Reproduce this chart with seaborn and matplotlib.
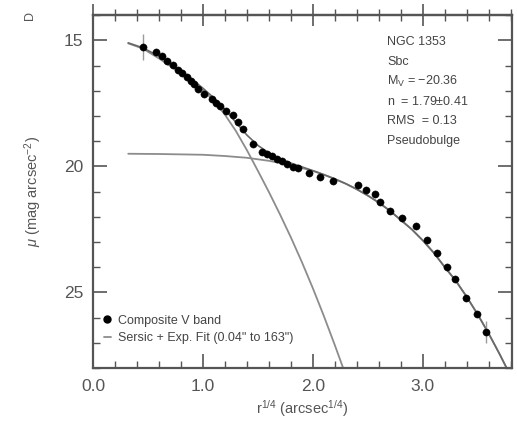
import numpy as np
import pandas as pd
import matplotlib
matplotlib.use('Agg')
import matplotlib.pyplot as plt
from matplotlib.lines import Line2D
from matplotlib.ticker import MultipleLocator
import seaborn as sns

# surface brightness profile
r14 = [0.457, 0.570, 0.624, 0.676, 0.730, 0.776, 0.812, 0.852, 0.888, 0.921,
       0.952, 1.012, 1.085, 1.118, 1.155, 1.209, 1.276, 1.321, 1.367, 1.452,
       1.533, 1.579, 1.624, 1.670, 1.715, 1.760, 1.815, 1.866, 1.964, 2.064,
       2.185, 2.412, 2.482, 2.564, 2.609, 2.706, 2.815, 2.942, 3.039, 3.130,
       3.221, 3.297, 3.397, 3.497, 3.579]
mu = [15.26, 15.48, 15.63, 15.81, 15.97, 16.16, 16.31, 16.47, 16.61, 16.75,
      16.92, 17.11, 17.33, 17.47, 17.61, 17.81, 17.95, 18.23, 18.53, 19.12,
      19.44, 19.52, 19.60, 19.69, 19.80, 19.89, 20.02, 20.08, 20.25, 20.42,
      20.59, 20.75, 20.95, 21.10, 21.41, 21.76, 22.03, 22.37, 22.93, 23.43,
      23.99, 24.48, 25.22, 25.84, 26.57]
mu_err = [0.50] + [0.0] * 43 + [0.45]

# fit curves
sersic_x = [0.32, 0.45, 0.6, 0.8, 1.0, 1.1, 1.2, 1.3, 1.4, 1.5, 1.6, 1.7,
            1.8, 1.9, 2.0, 2.1, 2.2, 2.275]
sersic_mu = [15.12, 15.32, 15.72, 16.30, 16.98, 17.40, 17.95, 18.60, 19.36,
             20.18, 21.02, 21.90, 22.82, 23.80, 24.84, 25.94, 27.10, 28.00]
disk_x = [0.32, 0.6, 1.0, 1.2, 1.4, 1.6, 1.8, 2.0, 2.1, 2.2, 2.3, 2.4, 2.5,
          2.6, 2.7, 2.8, 2.9, 3.0, 3.1, 3.2, 3.3, 3.4, 3.5, 3.6, 3.7, 3.76]
disk_mu = [19.50, 19.51, 19.54, 19.59, 19.66, 19.78, 19.95, 20.18, 20.33,
           20.50, 20.69, 20.91, 21.16, 21.44, 21.76, 22.13, 22.50, 22.94,
           23.43, 24.00, 24.54, 25.18, 25.88, 26.64, 27.46, 27.98]
total_x = [0.32, 0.45, 0.6, 0.8, 1.0, 1.1, 1.2, 1.3, 1.4, 1.5, 1.6, 1.7, 1.8,
           1.9, 2.0, 2.1, 2.2, 2.3, 2.4, 2.5, 2.6, 2.7, 2.8, 2.9, 3.0, 3.1,
           3.2, 3.3, 3.4, 3.5, 3.6, 3.7, 3.76]
total_mu = [15.10, 15.29, 15.63, 16.20, 16.90, 17.29, 17.74, 18.26, 18.76,
            19.17, 19.47, 19.70, 19.87, 20.02, 20.17, 20.33, 20.50, 20.69,
            20.91, 21.16, 21.44, 21.76, 22.13, 22.50, 22.94, 23.43, 24.00,
            24.54, 25.18, 25.88, 26.64, 27.46, 27.98]

info_lines = ['NGC 1353', 'Sbc', r'M$_{\rm V}$ = $-$20.36',
              r'n  = 1.79$\pm$0.41', 'RMS  = 0.13', 'Pseudobulge']

sns.set_style('white')
plt.rcParams['font.family'] = ['Liberation Sans', 'DejaVu Sans']
plt.rcParams['mathtext.fontset'] = 'custom'
plt.rcParams['mathtext.rm'] = 'Liberation Sans'
plt.rcParams['mathtext.it'] = 'Liberation Sans:italic'

GREY = '#555555'
LINE = '#8c8c8c'

fig = plt.figure(figsize=(5.17, 4.21), dpi=100)
ax = fig.add_axes([0.180, 0.126, 0.810, 0.838])

df_pts = pd.DataFrame({'r14': r14, 'mu': mu, 'err': mu_err})
df_ser = pd.DataFrame({'x': sersic_x, 'mu': sersic_mu})
df_dsk = pd.DataFrame({'x': disk_x, 'mu': disk_mu})
df_tot = pd.DataFrame({'x': total_x, 'mu': total_mu})

sns.lineplot(data=df_ser, x='x', y='mu', ax=ax, color=LINE, lw=1.3, sort=False)
sns.lineplot(data=df_dsk, x='x', y='mu', ax=ax, color=LINE, lw=1.3, sort=False)
sns.lineplot(data=df_tot, x='x', y='mu', ax=ax, color='#6a6a6a', lw=1.2, sort=False)

eb = df_pts[df_pts['err'] > 0]
ax.errorbar(eb['r14'], eb['mu'], yerr=eb['err'], fmt='none',
            ecolor='#9a9a9a', elinewidth=1.0, capsize=0)
sns.scatterplot(data=df_pts, x='r14', y='mu', ax=ax, color='black',
                s=27, edgecolor='black', linewidth=0.3, zorder=5)

ax.set_xlim(0, 3.81)
ax.set_ylim(28, 14)
ax.set_xticks([0, 1, 2, 3])
ax.set_xticklabels(['0.0', '1.0', '2.0', '3.0'])
ax.set_yticks([15, 20, 25])
ax.set_yticklabels(['15', '20', '25'])
ax.xaxis.set_minor_locator(MultipleLocator(0.2))
ax.yaxis.set_minor_locator(MultipleLocator(1))

ax.tick_params(which='both', direction='in', colors=GREY, labelcolor=GREY,
               bottom=True, left=True, right=True, top=False, labelsize=12.5)
ax.tick_params(which='major', length=10, width=1.2)
ax.tick_params(which='minor', length=5, width=1.0)
ax.tick_params(axis='x', pad=8)
ax.tick_params(axis='y', pad=7)

top = ax.secondary_xaxis('top')
top.xaxis.set_major_locator(MultipleLocator(1.0))
top.xaxis.set_minor_locator(MultipleLocator(0.2))
top.tick_params(which='both', direction='inout', colors=GREY, top=True,
                labeltop=False)
top.tick_params(which='major', length=16, width=1.2)
top.tick_params(which='minor', length=9, width=1.0)
top.spines['top'].set_color(GREY)
top.spines['top'].set_linewidth(1.6)

for sp in ax.spines.values():
    sp.set_color(GREY)
    sp.set_linewidth(1.6)

ax.set_xlabel(r'r$^{1/4}$ (arcsec$^{1/4}$)', fontsize=10.5, color=GREY, labelpad=3)
ax.set_ylabel(r'$\mu$ (mag arcsec$^{-2}$)', fontsize=10.5, color=GREY, labelpad=14)

for i, line in enumerate(info_lines):
    ax.text(0.703, 0.925 - i * 0.0565, line, transform=ax.transAxes,
            fontsize=9, color='#444444', va='center')

handles = [Line2D([], [], ls='none', marker='o', color='black', markersize=5),
           Line2D([], [], color=LINE, lw=1.3)]
ax.legend(handles, ['Composite V band', 'Sersic + Exp. Fit (0.04" to 163")'],
          loc='lower left', bbox_to_anchor=(0.0, 0.035), frameon=False,
          fontsize=9, handlelength=0.5, handletextpad=0.6, labelspacing=0.45,
          labelcolor='#444444')

fig.text(0.058, 0.962, 'D', rotation=90, fontsize=9, color=GREY,
         ha='center', va='center')

fig.savefig('out.png', dpi=100)
plt.close(fig)
